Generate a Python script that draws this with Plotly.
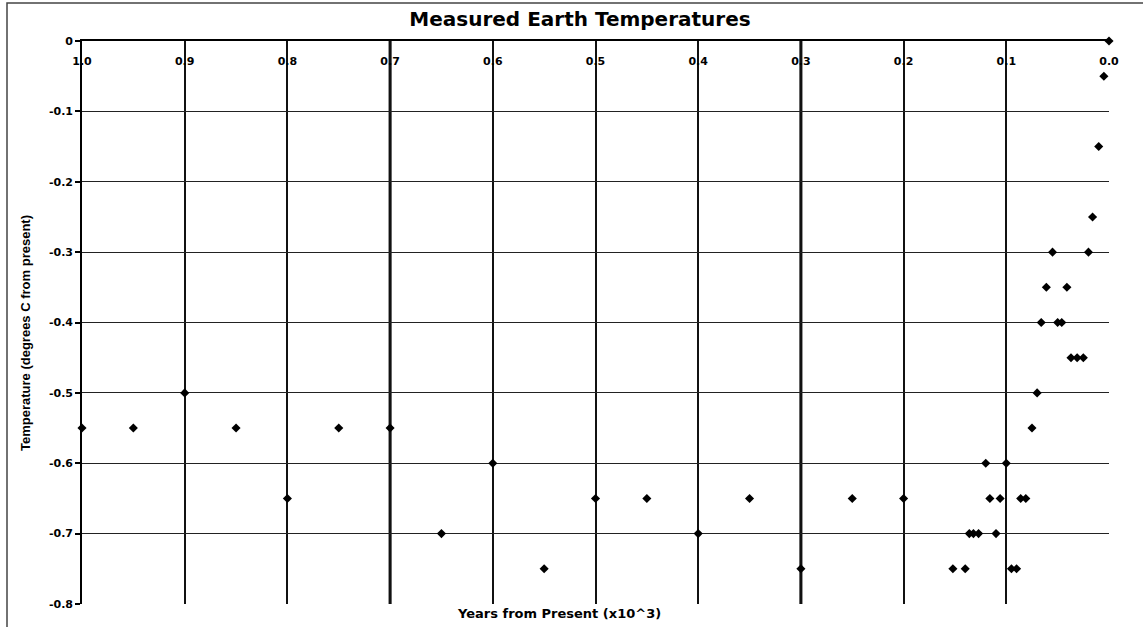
import plotly.graph_objects as go

# Data
years = [1.0, 0.95, 0.9, 0.85, 0.8, 0.75, 0.7, 0.65, 0.6, 0.55, 0.5, 0.45, 0.4, 0.35,
         0.3, 0.25, 0.2, 0.152, 0.14, 0.136, 0.132, 0.127, 0.12, 0.116, 0.11, 0.106,
         0.1, 0.095, 0.09, 0.086, 0.081, 0.075, 0.07, 0.066, 0.061, 0.055, 0.05,
         0.046, 0.041, 0.037, 0.031, 0.025, 0.02, 0.016, 0.01, 0.005, 0.0]
temps = [-0.55, -0.55, -0.5, -0.55, -0.65, -0.55, -0.55, -0.7, -0.6, -0.75, -0.65, -0.65, -0.7, -0.65,
         -0.75, -0.65, -0.65, -0.75, -0.75, -0.7, -0.7, -0.7, -0.6, -0.65, -0.7, -0.65,
         -0.6, -0.75, -0.75, -0.65, -0.65, -0.55, -0.5, -0.4, -0.35, -0.3, -0.4,
         -0.4, -0.35, -0.45, -0.45, -0.45, -0.3, -0.25, -0.15, -0.05, 0.0]

x_tickvals = [1.0, 0.9, 0.8, 0.7, 0.6, 0.5, 0.4, 0.3, 0.2, 0.1, 0.0]
x_ticktext = ["1.0", "0.9", "0.8", "0.7", "0.6", "0.5", "0.4", "0.3", "0.2", "0.1", "0.0"]
y_tickvals = [0, -0.1, -0.2, -0.3, -0.4, -0.5, -0.6, -0.7, -0.8]
y_ticktext = ["0", "-0.1", "-0.2", "-0.3", "-0.4", "-0.5", "-0.6", "-0.7", "-0.8"]
highlight_years = [0.7, 0.3]

title_text = "Measured Earth Temperatures"
x_title = "Years from Present (x10^3)"
y_title = "Temperature (degrees C from present)"

W, H = 1143, 627
L, R, T, B = 82, 34, 41, 23
pw, ph = W - L - R, H - T - B

fig = go.Figure()
fig.add_trace(go.Scatter(
    x=years, y=temps, mode="markers",
    marker=dict(symbol="diamond", size=7, color="black"),
    cliponaxis=False, showlegend=False, xaxis="x", yaxis="y",
))
# empty trace so the label-only axis is drawn
fig.add_trace(go.Scatter(x=[], y=[], mode="markers", xaxis="x2", yaxis="y",
                         showlegend=False, hoverinfo="skip"))

for yv in highlight_years:
    fig.add_vline(x=yv, line=dict(color="black", width=3), layer="below")

tick_font = dict(family="DejaVu Sans", size=11, color="black", weight="bold")

fig.update_layout(
    width=W, height=H,
    margin=dict(l=L, r=R, t=T, b=B, autoexpand=False),
    paper_bgcolor="white", plot_bgcolor="white",
    title=dict(text=title_text, xref="container", yref="container",
               x=580 / W, xanchor="center", y=1 - 19 / H, yanchor="middle",
               font=dict(family="DejaVu Sans", size=20, color="black", weight="bold")),
    xaxis=dict(
        range=[1.0, 0.0], autorange=False, side="top",
        tickvals=x_tickvals, ticks="", showticklabels=False,
        showgrid=True, gridcolor="#111", gridwidth=1.6,
        showline=True, linecolor="black", linewidth=1.6,
        zeroline=False, automargin=False,
    ),
    xaxis2=dict(
        range=[1.0, 0.0], autorange=False, overlaying="x", side="bottom",
        anchor="free", position=1 - 12 / ph,
        tickvals=x_tickvals, ticktext=x_ticktext,
        ticks="", tickfont=tick_font,
        showgrid=False, showline=False, zeroline=False, automargin=False,
    ),
    yaxis=dict(
        range=[-0.8, 0.0], autorange=False,
        tickvals=y_tickvals, ticktext=y_ticktext,
        ticks="outside", ticklen=5, tickcolor="black", tickwidth=1.5,
        tickfont=tick_font,
        showgrid=True, gridcolor="#222", gridwidth=1.4,
        showline=True, linecolor="black", linewidth=1.6,
        zeroline=False, automargin=False,
    ),
    shapes=[
        # grey right and bottom plot-area border
        dict(type="line", xref="paper", yref="paper", x0=1, x1=1, y0=0, y1=1,
             line=dict(color="#999", width=1.5)),
        dict(type="line", xref="paper", yref="paper", x0=0, x1=1, y0=0, y1=0,
             line=dict(color="#999", width=1.5)),
        # outer chart border
        dict(type="rect", xref="paper", yref="paper",
             x0=(7 - L) / pw, x1=(1160 - L) / pw,
             y0=-(650 - (H - B)) / ph, y1=1 + (T - 3) / ph,
             line=dict(color="#444", width=1.5)),
    ],
    annotations=[
        dict(text=x_title, xref="paper", yref="paper",
             x=(559 - L) / pw, y=0, xanchor="center", yanchor="top", yshift=0,
             showarrow=False,
             font=dict(family="DejaVu Sans", size=13, color="black", weight="bold")),
        dict(text=y_title, xref="paper", yref="paper",
             x=(25 - L) / pw, y=1 - (333 - T) / ph, xanchor="center", yanchor="middle",
             textangle=-90, showarrow=False,
             font=dict(family="Liberation Sans Narrow, Arial Narrow, Liberation Sans",
                       size=13, color="black", weight="bold")),
    ],
)

fig.write_html(
    "out.html",
    config={"displayModeBar": False},
    post_script="document.body.style.margin='0px';document.body.style.overflow='hidden';",
)
